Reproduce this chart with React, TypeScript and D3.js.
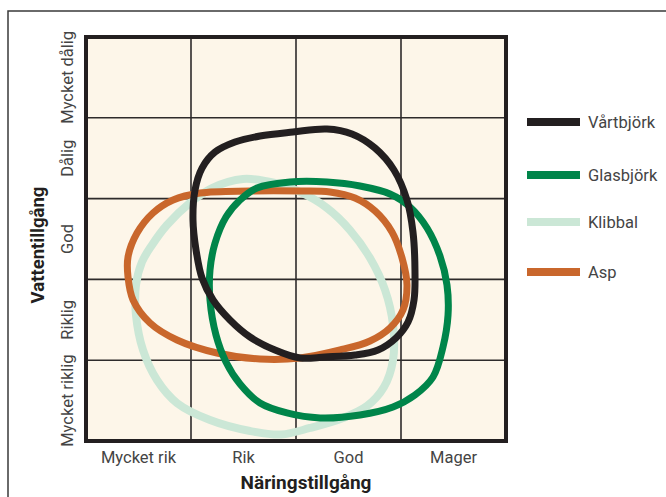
import React from "react";
import * as d3 from "d3";

const xCategories = ["Mycket rik", "Rik", "God", "Mager"];
const yCategories = ["Mycket riklig", "Riklig", "God", "Dålig", "Mycket dålig"];

// points in grid units: x = nutrient column units (0..4), y = water row units from bottom (0..5)
const vartbjork: [number, number][] = [
  [1.657, 3.775], [1.971, 3.824], [2.295, 3.861], [2.533, 3.8], [2.752, 3.626], [2.933, 3.354],
  [3.057, 2.983], [3.114, 2.587], [3.133, 2.116], [3.124, 1.745], [3.067, 1.473], [2.952, 1.275],
  [2.781, 1.126], [2.562, 1.064], [2.276, 1.04], [2.038, 1.027], [1.8, 1.126], [1.562, 1.287],
  [1.371, 1.498], [1.21, 1.745], [1.105, 2.017], [1.048, 2.364], [1.019, 2.735], [1.038, 3.106],
  [1.105, 3.378], [1.229, 3.576], [1.419, 3.7],
];
const glasbjork: [number, number][] = [
  [1.629, 3.131], [1.943, 3.205], [2.295, 3.205], [2.61, 3.156], [2.895, 3.057], [3.086, 2.896],
  [3.248, 2.636], [3.371, 2.29], [3.438, 1.931], [3.448, 1.559], [3.4, 1.163], [3.305, 0.792],
  [3.133, 0.569], [2.924, 0.421], [2.61, 0.322], [2.229, 0.285], [1.914, 0.347], [1.657, 0.47],
  [1.467, 0.705], [1.333, 0.978], [1.238, 1.312], [1.181, 1.745], [1.181, 2.116], [1.229, 2.45],
  [1.333, 2.772], [1.467, 2.983],
];
const klibbal: [number, number][] = [
  [1.495, 3.243], [1.8, 3.193], [2.038, 3.082], [2.295, 2.884], [2.514, 2.611], [2.705, 2.265],
  [2.848, 1.869], [2.924, 1.436], [2.924, 1.002], [2.838, 0.668], [2.676, 0.433], [2.448, 0.285],
  [2.133, 0.161], [1.86, 0.08], [1.562, 0.124], [1.181, 0.26], [0.867, 0.47], [0.676, 0.755],
  [0.543, 1.126], [0.476, 1.559], [0.476, 1.931], [0.533, 2.215], [0.629, 2.426], [0.771, 2.673],
  [0.99, 2.946], [1.2, 3.131],
];
const asp: [number, number][] = [
  [1.086, 3.069], [1.562, 3.094], [2.038, 3.094], [2.324, 3.082], [2.562, 3.007], [2.752, 2.847],
  [2.914, 2.587], [3.01, 2.265], [3.057, 1.931], [3.019, 1.621], [2.895, 1.399], [2.705, 1.238],
  [2.419, 1.126], [2.038, 1.027], [1.657, 1.015], [1.248, 1.089], [0.867, 1.25], [0.61, 1.46],
  [0.448, 1.745], [0.4, 2.03], [0.4, 2.277], [0.486, 2.574], [0.638, 2.822], [0.829, 2.983],
];

const seriesNames = ["Vårtbjörk", "Glasbjörk", "Klibbal", "Asp"];
const seriesColors = ["#231f20", "#00854a", "#cbe7d6", "#c9672c"];
const seriesData = [vartbjork, glasbjork, klibbal, asp];
const drawOrder = [2, 3, 1, 0];

export default function App() {
  const left = 86, right = 506, top = 37, bottom = 441;
  const x = d3.scaleLinear().domain([0, 4]).range([left, right]);
  const y = d3.scaleLinear().domain([0, 5]).range([bottom, top]);
  const line = d3
    .line<[number, number]>()
    .x((d) => x(d[0]))
    .y((d) => y(d[1]))
    .curve(d3.curveCatmullRomClosed.alpha(0.5));

  const font = "Roboto, 'Noto Sans', sans-serif";
  const legendY = [122, 175, 222, 272];

  return (
    <svg
      width={666}
      height={497}
      style={{ position: "absolute", left: 0, top: 0, background: "#fff" }}
      fontFamily={font}
    >
      <rect x={8} y={11} width={700} height={540} fill="none" stroke="#3a3a3a" strokeWidth={1.5} />
      <rect x={left} y={top} width={right - left} height={bottom - top} fill="#fdf6e9" />
      {d3.range(1, 4).map((i) => (
        <line key={"vx" + i} x1={x(i)} x2={x(i)} y1={top} y2={bottom} stroke="#2e2b2b" strokeWidth={1.6} />
      ))}
      {d3.range(1, 5).map((i) => (
        <line key={"hy" + i} x1={left} x2={right} y1={y(i)} y2={y(i)} stroke="#2e2b2b" strokeWidth={1.6} />
      ))}
      {drawOrder.map((i) => (
        <path
          key={seriesNames[i]}
          d={line(seriesData[i]) || ""}
          fill="none"
          stroke={seriesColors[i]}
          strokeWidth={i === 2 ? 8 : 7}
        />
      ))}
      <rect x={left} y={top} width={right - left} height={bottom - top} fill="none" stroke="#231f20" strokeWidth={4} />

      {xCategories.map((c, i) => (
        <text key={c} x={x(i + 0.5)} y={463} textAnchor="middle" fontSize={16.5} fill="#444">
          {c}
        </text>
      ))}
      {yCategories.map((c, i) => (
        <text
          key={c}
          transform={`translate(73,${y(i + 0.5)}) rotate(-90)`}
          textAnchor="middle"
          fontSize={16.5}
          fill="#444"
        >
          {c}
        </text>
      ))}
      <text x={306} y={489} textAnchor="middle" fontSize={19} fontWeight="bold" fill="#231f20">
        Näringstillgång
      </text>
      <text
        transform={`translate(44,245) rotate(-90)`}
        textAnchor="middle"
        fontSize={18.5}
        fontWeight="bold"
        fill="#231f20"
      >
        Vattentillgång
      </text>

      {seriesNames.map((n, i) => (
        <g key={n}>
          <line x1={527} x2={580} y1={legendY[i]} y2={legendY[i]} stroke={seriesColors[i]} strokeWidth={8} />
          <text x={588} y={legendY[i] + 6} fontSize={16.5} fill="#444">
            {n}
          </text>
        </g>
      ))}
    </svg>
  );
}
